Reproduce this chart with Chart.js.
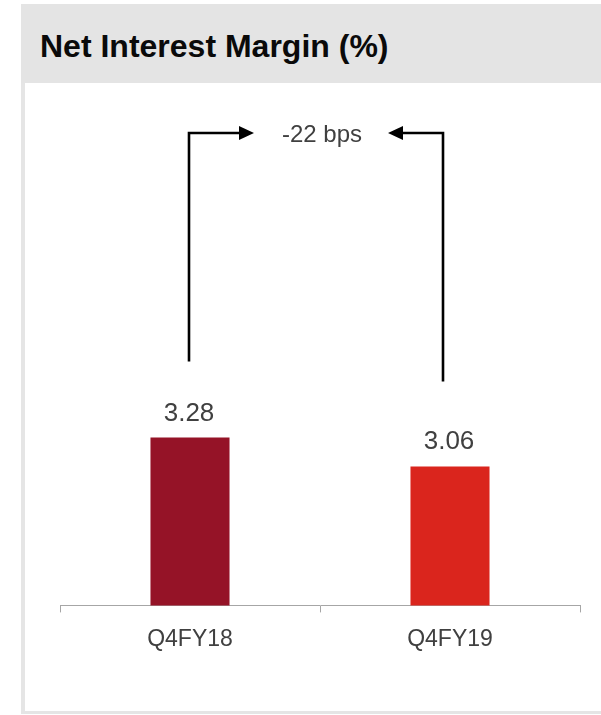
<!DOCTYPE html>
<html>
<head>
<meta charset="utf-8">
<script src="https://cdn.jsdelivr.net/npm/chart.js@4/dist/chart.umd.min.js"></script>
<style>
  html, body { margin: 0; padding: 0; background: #ffffff; }
  #page { position: relative; width: 601px; height: 715px; overflow: hidden; background: #fff; }
  #panel { position: absolute; left: 21px; top: 4px; width: 580px; height: 710px;
           border-left: 4px solid #e5e5e5; border-bottom: 3px solid #e5e5e5; box-sizing: border-box; background: #fff; }
  #header { position: absolute; left: 21px; top: 4px; width: 580px; height: 79px; background: #e4e4e4; }
  #title { position: absolute; left: 40px; top: 30px; margin: 0; font-family: "Liberation Sans", Arial, sans-serif;
           font-weight: bold; font-size: 32px; line-height: 32px; color: #0a0a0a; white-space: nowrap; }
  #c { position: absolute; left: 0; top: 0; }
</style>
</head>
<body>
<div id="page">
  <div id="panel"></div>
  <div id="header"></div>
  <h1 id="title">Net Interest Margin (%)</h1>
  <canvas id="c" width="601" height="715"></canvas>
</div>
<script>
// ---- data ----
const categories = ["Q4FY18", "Q4FY19"];
const nimValues = [3.28, 3.06];
const barColors = ["#951327", "#DA251D"];
const changeUnit = "bps";

// ---- plugins ----
const valueLabels = {
  id: 'valueLabels',
  afterDatasetsDraw(chart) {
    const ctx = chart.ctx;
    const meta = chart.getDatasetMeta(0);
    ctx.save();
    ctx.font = '26px "Liberation Sans", Arial, sans-serif';
    ctx.fillStyle = '#404040';
    ctx.textAlign = 'center';
    ctx.textBaseline = 'alphabetic';
    meta.data.forEach((bar, i) => {
      ctx.fillText(nimValues[i].toFixed(2), bar.x - 1, bar.y - 17);
    });
    ctx.restore();
  }
};

const changeBracket = {
  id: 'changeBracket',
  afterDatasetsDraw(chart, args, opts) {
    const ctx = chart.ctx;
    const meta = chart.getDatasetMeta(0);
    const b1 = meta.data[0], b2 = meta.data[1];
    const topY = chart.chartArea.top + opts.topOffset;
    const x1 = b1.x + opts.legShift[0];
    const x2 = b2.x + opts.legShift[1];
    const y1 = b1.y - opts.legGap[0];
    const y2 = b2.y - opts.legGap[1];
    const cx = chart.chartArea.left + chart.chartArea.width / 2 + 2;
    const tipL = cx - 68, tipR = cx + 66;
    const head = 15, half = 7;
    ctx.save();
    ctx.strokeStyle = '#000';
    ctx.fillStyle = '#000';
    ctx.lineWidth = 2.6;
    ctx.lineJoin = 'miter';
    ctx.beginPath();
    ctx.moveTo(x1, y1); ctx.lineTo(x1, topY); ctx.lineTo(tipL - head + 1, topY);
    ctx.stroke();
    ctx.beginPath();
    ctx.moveTo(tipL, topY); ctx.lineTo(tipL - head, topY - half); ctx.lineTo(tipL - head, topY + half); ctx.closePath();
    ctx.fill();
    ctx.beginPath();
    ctx.moveTo(x2, y2); ctx.lineTo(x2, topY); ctx.lineTo(tipR + head - 1, topY);
    ctx.stroke();
    ctx.beginPath();
    ctx.moveTo(tipR, topY); ctx.lineTo(tipR + head, topY - half); ctx.lineTo(tipR + head, topY + half); ctx.closePath();
    ctx.fill();
    const diff = Math.round((nimValues[1] - nimValues[0]) * 100);
    ctx.font = '24px "Liberation Sans", Arial, sans-serif';
    ctx.fillStyle = '#404040';
    ctx.textAlign = 'center';
    ctx.textBaseline = 'middle';
    ctx.fillText(diff + ' ' + changeUnit, cx, topY + 2);
    ctx.restore();
  }
};

new Chart(document.getElementById('c'), {
  type: 'bar',
  data: {
    labels: categories,
    datasets: [{
      data: nimValues,
      backgroundColor: barColors,
      borderWidth: 0,
      barPercentage: 0.304,
      categoryPercentage: 1.0
    }]
  },
  options: {
    responsive: false,
    animation: false,
    devicePixelRatio: 1,
    layout: { padding: { left: 60, right: 21, top: 81, bottom: 49 } },
    plugins: {
      legend: { display: false },
      tooltip: { enabled: false },
      title: { display: false },
      changeBracket: { topOffset: 52, legShift: [-1, -7], legGap: [76, 85] }
    },
    scales: {
      x: {
        offset: true,
        grid: { display: true, drawOnChartArea: false, drawTicks: true, tickLength: 7, color: '#a6a6a6', offset: true },
        border: { display: true, color: '#a6a6a6', width: 1 },
        ticks: { color: '#404040', font: { family: '"Liberation Sans", Arial, sans-serif', size: 23 }, padding: 13 }
      },
      y: {
        display: false,
        min: 2,
        max: 6
      }
    }
  },
  plugins: [valueLabels, changeBracket]
});
</script>
</body>
</html>
